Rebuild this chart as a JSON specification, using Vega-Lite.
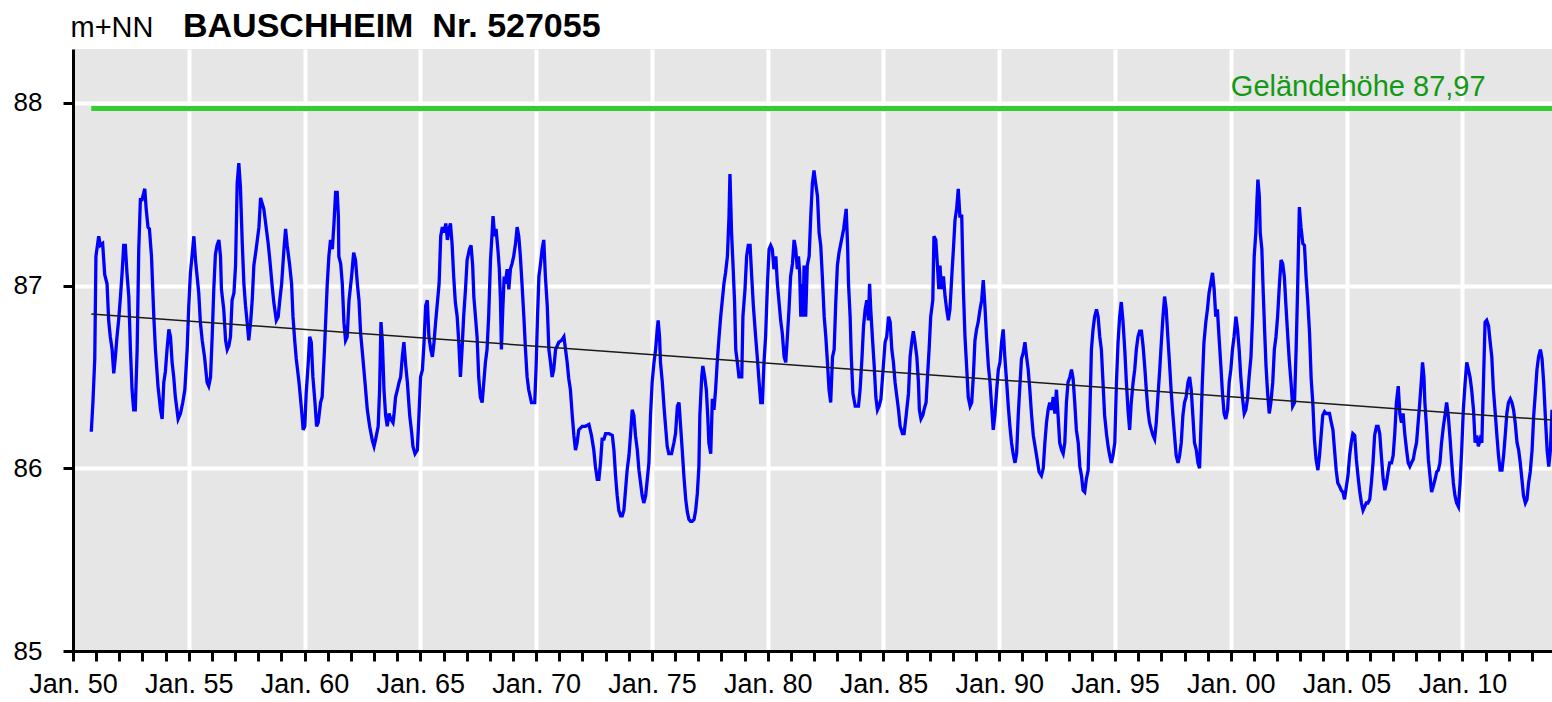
{
  "$schema": "https://vega.github.io/schema/vega-lite/v6.json",
  "width": 1479,
  "height": 602,
  "autosize": {"type": "none"},
  "padding": {"left": 73, "top": 49, "right": 0, "bottom": 51},
  "background": "white",
  "config": {
    "view": {"fill": "#e6e6e6", "stroke": null},
    "font": "Liberation Sans"
  },
  "title": {
    "text": "BAUSCHHEIM\u00a0\u00a0Nr. 527055",
    "font": "Liberation Sans",
    "fontSize": 34,
    "fontWeight": "bold",
    "color": "black",
    "anchor": "start",
    "frame": "group",
    "baseline": "alphabetic",
    "offset": 0,
    "dx": 110,
    "dy": 58
  },
  "datasets": {
    "gw": [
{"t":1950.79,"v":86.2},{"t":1950.86,"v":86.36},{"t":1950.94,"v":86.6},{"t":1950.99,"v":87.16},{"t":1951.11,"v":87.27},{"t":1951.18,"v":87.22},{"t":1951.28,"v":87.23},{"t":1951.37,"v":87.06},{"t":1951.47,"v":87.01},{"t":1951.54,"v":86.81},{"t":1951.61,"v":86.72},{"t":1951.69,"v":86.65},{"t":1951.76,"v":86.52},{"t":1951.83,"v":86.61},{"t":1951.9,"v":86.72},{"t":1951.97,"v":86.81},{"t":1952.05,"v":86.94},{"t":1952.12,"v":87.07},{"t":1952.19,"v":87.22},{"t":1952.26,"v":87.22},{"t":1952.33,"v":87.07},{"t":1952.41,"v":86.94},{"t":1952.48,"v":86.65},{"t":1952.55,"v":86.43},{"t":1952.62,"v":86.32},{"t":1952.69,"v":86.32},{"t":1952.77,"v":86.65},{"t":1952.84,"v":87.2},{"t":1952.91,"v":87.47},{"t":1952.98,"v":87.47},{"t":1953.1,"v":87.53},{"t":1953.16,"v":87.42},{"t":1953.24,"v":87.32},{"t":1953.3,"v":87.31},{"t":1953.39,"v":87.16},{"t":1953.49,"v":86.83},{"t":1953.56,"v":86.65},{"t":1953.67,"v":86.45},{"t":1953.78,"v":86.32},{"t":1953.85,"v":86.27},{"t":1953.92,"v":86.47},{"t":1953.99,"v":86.53},{"t":1954.06,"v":86.65},{"t":1954.14,"v":86.76},{"t":1954.21,"v":86.72},{"t":1954.28,"v":86.58},{"t":1954.35,"v":86.5},{"t":1954.42,"v":86.39},{"t":1954.54,"v":86.27},{"t":1954.64,"v":86.3},{"t":1954.74,"v":86.36},{"t":1954.83,"v":86.43},{"t":1954.93,"v":86.65},{"t":1955.0,"v":86.89},{"t":1955.07,"v":87.07},{"t":1955.14,"v":87.16},{"t":1955.22,"v":87.27},{"t":1955.29,"v":87.14},{"t":1955.36,"v":87.05},{"t":1955.43,"v":86.96},{"t":1955.5,"v":86.8},{"t":1955.58,"v":86.7},{"t":1955.68,"v":86.61},{"t":1955.79,"v":86.47},{"t":1955.86,"v":86.45},{"t":1955.94,"v":86.5},{"t":1956.01,"v":86.72},{"t":1956.08,"v":86.98},{"t":1956.15,"v":87.17},{"t":1956.22,"v":87.22},{"t":1956.3,"v":87.25},{"t":1956.37,"v":87.16},{"t":1956.41,"v":86.98},{"t":1956.51,"v":86.87},{"t":1956.59,"v":86.7},{"t":1956.66,"v":86.65},{"t":1956.73,"v":86.67},{"t":1956.8,"v":86.72},{"t":1956.87,"v":86.92},{"t":1956.95,"v":86.96},{"t":1957.02,"v":87.11},{"t":1957.09,"v":87.56},{"t":1957.16,"v":87.67},{"t":1957.23,"v":87.54},{"t":1957.31,"v":87.23},{"t":1957.38,"v":87.01},{"t":1957.45,"v":86.89},{"t":1957.52,"v":86.8},{"t":1957.59,"v":86.7},{"t":1957.67,"v":86.8},{"t":1957.74,"v":86.92},{"t":1957.81,"v":87.11},{"t":1957.91,"v":87.2},{"t":1958.03,"v":87.32},{"t":1958.1,"v":87.48},{"t":1958.17,"v":87.45},{"t":1958.24,"v":87.42},{"t":1958.34,"v":87.32},{"t":1958.43,"v":87.23},{"t":1958.5,"v":87.14},{"t":1958.6,"v":87.0},{"t":1958.67,"v":86.91},{"t":1958.78,"v":86.81},{"t":1958.86,"v":86.83},{"t":1958.93,"v":86.92},{"t":1959.01,"v":87.01},{"t":1959.11,"v":87.2},{"t":1959.18,"v":87.31},{"t":1959.25,"v":87.22},{"t":1959.35,"v":87.12},{"t":1959.44,"v":87.01},{"t":1959.5,"v":86.83},{"t":1959.58,"v":86.69},{"t":1959.64,"v":86.6},{"t":1959.76,"v":86.47},{"t":1959.87,"v":86.32},{"t":1959.94,"v":86.21},{"t":1960.01,"v":86.23},{"t":1960.07,"v":86.41},{"t":1960.16,"v":86.58},{"t":1960.22,"v":86.72},{"t":1960.29,"v":86.69},{"t":1960.36,"v":86.5},{"t":1960.45,"v":86.36},{"t":1960.52,"v":86.23},{"t":1960.59,"v":86.25},{"t":1960.69,"v":86.36},{"t":1960.76,"v":86.39},{"t":1960.86,"v":86.65},{"t":1960.98,"v":87.01},{"t":1961.05,"v":87.16},{"t":1961.12,"v":87.25},{"t":1961.2,"v":87.2},{"t":1961.27,"v":87.34},{"t":1961.34,"v":87.51},{"t":1961.41,"v":87.51},{"t":1961.46,"v":87.38},{"t":1961.48,"v":87.16},{"t":1961.56,"v":87.12},{"t":1961.63,"v":87.01},{"t":1961.7,"v":86.8},{"t":1961.77,"v":86.7},{"t":1961.84,"v":86.72},{"t":1961.92,"v":86.92},{"t":1962.03,"v":87.05},{"t":1962.12,"v":87.18},{"t":1962.2,"v":87.14},{"t":1962.28,"v":87.01},{"t":1962.35,"v":86.92},{"t":1962.42,"v":86.74},{"t":1962.52,"v":86.6},{"t":1962.61,"v":86.47},{"t":1962.71,"v":86.32},{"t":1962.81,"v":86.23},{"t":1962.93,"v":86.15},{"t":1963.0,"v":86.12},{"t":1963.07,"v":86.16},{"t":1963.18,"v":86.23},{"t":1963.24,"v":86.43},{"t":1963.3,"v":86.8},{"t":1963.36,"v":86.69},{"t":1963.43,"v":86.43},{"t":1963.5,"v":86.29},{"t":1963.57,"v":86.23},{"t":1963.65,"v":86.3},{"t":1963.72,"v":86.27},{"t":1963.82,"v":86.25},{"t":1963.86,"v":86.29},{"t":1963.93,"v":86.39},{"t":1964.01,"v":86.43},{"t":1964.08,"v":86.47},{"t":1964.15,"v":86.5},{"t":1964.22,"v":86.61},{"t":1964.29,"v":86.69},{"t":1964.37,"v":86.56},{"t":1964.44,"v":86.47},{"t":1964.54,"v":86.29},{"t":1964.63,"v":86.19},{"t":1964.68,"v":86.12},{"t":1964.77,"v":86.08},{"t":1964.87,"v":86.1},{"t":1964.94,"v":86.29},{"t":1965.01,"v":86.5},{"t":1965.09,"v":86.54},{"t":1965.16,"v":86.69},{"t":1965.23,"v":86.89},{"t":1965.3,"v":86.92},{"t":1965.37,"v":86.72},{"t":1965.45,"v":86.65},{"t":1965.52,"v":86.61},{"t":1965.59,"v":86.69},{"t":1965.66,"v":86.8},{"t":1965.81,"v":87.01},{"t":1965.88,"v":87.27},{"t":1965.95,"v":87.32},{"t":1966.02,"v":87.29},{"t":1966.1,"v":87.34},{"t":1966.17,"v":87.25},{"t":1966.24,"v":87.31},
{"t":1966.3,"v":87.34},{"t":1966.37,"v":87.23},{"t":1966.44,"v":87.05},{"t":1966.51,"v":86.91},{"t":1966.59,"v":86.83},{"t":1966.66,"v":86.69},{"t":1966.73,"v":86.5},{"t":1966.8,"v":86.65},{"t":1966.87,"v":86.83},{"t":1966.95,"v":86.98},{"t":1967.02,"v":87.14},{"t":1967.12,"v":87.2},{"t":1967.19,"v":87.22},{"t":1967.26,"v":87.11},{"t":1967.31,"v":86.94},{"t":1967.38,"v":86.83},{"t":1967.45,"v":86.72},{"t":1967.52,"v":86.5},{"t":1967.59,"v":86.39},{"t":1967.67,"v":86.36},{"t":1967.74,"v":86.47},{"t":1967.81,"v":86.58},{"t":1967.88,"v":86.65},{"t":1967.95,"v":86.83},{"t":1968.03,"v":87.14},{"t":1968.1,"v":87.29},{"t":1968.14,"v":87.38},{"t":1968.21,"v":87.27},{"t":1968.27,"v":87.31},{"t":1968.36,"v":87.18},{"t":1968.41,"v":87.09},{"t":1968.46,"v":86.92},{"t":1968.5,"v":86.65},{"t":1968.56,"v":86.87},{"t":1968.62,"v":87.05},{"t":1968.67,"v":87.01},{"t":1968.75,"v":87.09},{"t":1968.82,"v":86.98},{"t":1968.89,"v":87.09},{"t":1968.96,"v":87.12},{"t":1969.03,"v":87.16},{"t":1969.11,"v":87.23},{"t":1969.18,"v":87.32},{"t":1969.25,"v":87.27},{"t":1969.32,"v":87.16},{"t":1969.39,"v":87.01},{"t":1969.47,"v":86.83},{"t":1969.54,"v":86.65},{"t":1969.61,"v":86.5},{"t":1969.68,"v":86.43},{"t":1969.8,"v":86.36},{"t":1969.94,"v":86.36},{"t":1970.0,"v":86.56},{"t":1970.06,"v":86.83},{"t":1970.12,"v":87.05},{"t":1970.19,"v":87.12},{"t":1970.26,"v":87.2},{"t":1970.33,"v":87.25},{"t":1970.4,"v":87.05},{"t":1970.48,"v":86.89},{"t":1970.55,"v":86.65},{"t":1970.62,"v":86.58},{"t":1970.69,"v":86.5},{"t":1970.76,"v":86.54},{"t":1970.84,"v":86.65},{"t":1970.98,"v":86.69},{"t":1971.1,"v":86.7},{"t":1971.2,"v":86.72},{"t":1971.27,"v":86.65},{"t":1971.34,"v":86.58},{"t":1971.41,"v":86.49},{"t":1971.48,"v":86.43},{"t":1971.56,"v":86.29},{"t":1971.63,"v":86.18},{"t":1971.7,"v":86.1},{"t":1971.77,"v":86.14},{"t":1971.84,"v":86.21},{"t":1971.99,"v":86.23},{"t":1972.13,"v":86.23},{"t":1972.28,"v":86.24},{"t":1972.39,"v":86.18},{"t":1972.49,"v":86.1},{"t":1972.56,"v":86.01},{"t":1972.64,"v":85.94},{"t":1972.71,"v":85.94},{"t":1972.78,"v":86.03},{"t":1972.85,"v":86.16},{"t":1972.93,"v":86.16},{"t":1973.0,"v":86.19},{"t":1973.14,"v":86.19},{"t":1973.29,"v":86.18},{"t":1973.36,"v":86.1},{"t":1973.43,"v":85.96},{"t":1973.5,"v":85.85},{"t":1973.57,"v":85.77},{"t":1973.65,"v":85.74},{"t":1973.72,"v":85.74},{"t":1973.79,"v":85.77},{"t":1973.86,"v":85.88},{"t":1973.93,"v":85.99},{"t":1974.01,"v":86.07},{"t":1974.08,"v":86.19},{"t":1974.15,"v":86.32},{"t":1974.22,"v":86.29},{"t":1974.29,"v":86.18},{"t":1974.37,"v":86.1},{"t":1974.44,"v":85.99},{"t":1974.51,"v":85.92},{"t":1974.58,"v":85.85},{"t":1974.65,"v":85.81},{"t":1974.73,"v":85.85},{"t":1974.8,"v":85.94},{"t":1974.87,"v":86.03},{"t":1974.94,"v":86.29},{"t":1975.01,"v":86.47},{"t":1975.09,"v":86.58},{"t":1975.16,"v":86.65},{"t":1975.23,"v":86.76},{"t":1975.27,"v":86.81},{"t":1975.33,"v":86.72},{"t":1975.37,"v":86.58},{"t":1975.45,"v":86.47},{"t":1975.52,"v":86.34},{"t":1975.59,"v":86.23},{"t":1975.66,"v":86.12},{"t":1975.73,"v":86.08},{"t":1975.85,"v":86.08},{"t":1975.95,"v":86.14},{"t":1976.02,"v":86.19},{"t":1976.1,"v":86.34},{"t":1976.17,"v":86.36},{"t":1976.24,"v":86.23},{"t":1976.31,"v":86.1},{"t":1976.38,"v":85.96},{"t":1976.46,"v":85.83},{"t":1976.53,"v":85.76},{"t":1976.6,"v":85.72},{"t":1976.67,"v":85.71},{"t":1976.74,"v":85.71},{"t":1976.82,"v":85.72},{"t":1976.89,"v":85.77},{"t":1976.96,"v":85.86},{"t":1977.03,"v":86.01},{"t":1977.07,"v":86.29},{"t":1977.15,"v":86.5},{"t":1977.2,"v":86.56},{"t":1977.28,"v":86.5},{"t":1977.35,"v":86.43},{"t":1977.41,"v":86.29},{"t":1977.46,"v":86.14},{"t":1977.54,"v":86.08},{"t":1977.61,"v":86.38},{"t":1977.68,"v":86.32},{"t":1977.75,"v":86.43},{"t":1977.82,"v":86.58},{"t":1977.9,"v":86.72},{"t":1977.97,"v":86.83},{"t":1978.04,"v":86.92},{"t":1978.11,"v":87.01},{"t":1978.18,"v":87.07},{"t":1978.26,"v":87.16},{"t":1978.33,"v":87.38},{"t":1978.37,"v":87.61},{"t":1978.44,"v":87.29},{"t":1978.5,"v":87.12},{"t":1978.57,"v":86.91},{"t":1978.62,"v":86.65},{"t":1978.69,"v":86.58},{"t":1978.76,"v":86.5},{"t":1978.88,"v":86.5},{"t":1978.93,"v":86.83},{"t":1979.02,"v":86.98},{"t":1979.09,"v":87.16},{"t":1979.16,"v":87.22},{"t":1979.24,"v":87.22},{"t":1979.31,"v":87.05},{"t":1979.38,"v":86.89},{"t":1979.48,"v":86.72},{"t":1979.55,"v":86.61},{"t":1979.63,"v":86.47},{"t":1979.7,"v":86.36},{"t":1979.77,"v":86.36},{"t":1979.84,"v":86.58},{"t":1979.91,"v":86.72},{"t":1979.99,"v":87.01},{"t":1980.06,"v":87.2},{"t":1980.13,"v":87.22},{"t":1980.2,"v":87.2},{"t":1980.27,"v":87.09},{"t":1980.35,"v":87.16},{"t":1980.42,"v":87.01},{"t":1980.49,"v":86.91},{"t":1980.56,"v":86.81},{"t":1980.63,"v":86.74},{"t":1980.71,"v":86.61},{"t":1980.78,"v":86.58},{"t":1980.85,"v":86.72},{"t":1980.92,"v":86.87},{"t":1980.99,"v":87.05},{"t":1981.07,"v":87.12},{"t":1981.14,"v":87.25},{"t":1981.21,"v":87.2},{"t":1981.28,"v":87.09},{"t":1981.33,"v":87.16},{"t":1981.38,"v":87.07},{"t":1981.43,"v":86.83},{"t":1981.47,"v":87.01},{"t":1981.53,"v":86.83},{"t":1981.57,"v":87.11},{"t":1981.64,"v":86.83},{"t":1981.71,"v":87.11},{"t":1981.79,"v":87.16},{"t":1981.86,"v":87.38},{"t":1981.93,"v":87.56},{"t":1982.0,"v":87.63},{"t":1982.07,"v":87.56},{"t":1982.15,"v":87.49},{"t":1982.22,"v":87.29},{"t":1982.29,"v":87.22},{"t":1982.36,"v":87.05},{"t":1982.44,"v":86.83},{"t":1982.51,"v":86.72},{"t":1982.58,"v":86.58},{"t":1982.65,"v":86.43},{"t":1982.72,"v":86.36},{"t":1982.8,"v":86.61},{"t":1982.87,"v":86.65},{"t":1982.94,"v":86.91},{"t":1983.01,"v":87.11},{"t":1983.08,"v":87.18},
{"t":1983.28,"v":87.31},{"t":1983.39,"v":87.42},{"t":1983.45,"v":87.22},{"t":1983.49,"v":87.01},{"t":1983.56,"v":86.83},{"t":1983.61,"v":86.61},{"t":1983.68,"v":86.41},{"t":1983.78,"v":86.34},{"t":1983.92,"v":86.34},{"t":1983.99,"v":86.43},{"t":1984.07,"v":86.6},{"t":1984.14,"v":86.78},{"t":1984.21,"v":86.87},{"t":1984.28,"v":86.92},{"t":1984.35,"v":86.81},{"t":1984.4,"v":87.01},{"t":1984.45,"v":86.87},{"t":1984.53,"v":86.7},{"t":1984.6,"v":86.56},{"t":1984.67,"v":86.39},{"t":1984.74,"v":86.32},{"t":1984.81,"v":86.34},{"t":1984.89,"v":86.38},{"t":1984.96,"v":86.5},{"t":1985.07,"v":86.69},{"t":1985.14,"v":86.72},{"t":1985.22,"v":86.83},{"t":1985.29,"v":86.8},{"t":1985.36,"v":86.65},{"t":1985.43,"v":86.58},{"t":1985.5,"v":86.47},{"t":1985.65,"v":86.32},{"t":1985.72,"v":86.23},{"t":1985.82,"v":86.19},{"t":1985.89,"v":86.19},{"t":1985.98,"v":86.29},{"t":1986.08,"v":86.41},{"t":1986.15,"v":86.61},{"t":1986.22,"v":86.69},{"t":1986.29,"v":86.75},{"t":1986.36,"v":86.69},{"t":1986.44,"v":86.61},{"t":1986.51,"v":86.47},{"t":1986.55,"v":86.32},{"t":1986.62,"v":86.27},{"t":1986.7,"v":86.29},{"t":1986.75,"v":86.32},{"t":1986.84,"v":86.36},{"t":1986.9,"v":86.5},{"t":1986.97,"v":86.65},{"t":1987.04,"v":86.83},{"t":1987.13,"v":86.92},{"t":1987.18,"v":87.27},{"t":1987.26,"v":87.25},{"t":1987.33,"v":87.11},{"t":1987.39,"v":86.98},{"t":1987.44,"v":87.11},{"t":1987.51,"v":86.98},{"t":1987.59,"v":87.05},{"t":1987.66,"v":86.94},{"t":1987.73,"v":86.87},{"t":1987.8,"v":86.81},{"t":1987.87,"v":86.87},{"t":1987.95,"v":87.05},{"t":1988.02,"v":87.2},{"t":1988.09,"v":87.36},{"t":1988.16,"v":87.42},{"t":1988.23,"v":87.53},{"t":1988.3,"v":87.38},{"t":1988.38,"v":87.38},{"t":1988.45,"v":86.98},{"t":1988.52,"v":86.72},{"t":1988.59,"v":86.56},{"t":1988.66,"v":86.39},{"t":1988.74,"v":86.34},{"t":1988.81,"v":86.36},{"t":1988.88,"v":86.5},{"t":1988.95,"v":86.7},{"t":1989.02,"v":86.76},{"t":1989.09,"v":86.8},{"t":1989.17,"v":86.87},{"t":1989.24,"v":86.92},{"t":1989.31,"v":87.03},{"t":1989.38,"v":86.89},{"t":1989.45,"v":86.72},{"t":1989.53,"v":86.56},{"t":1989.6,"v":86.47},{"t":1989.67,"v":86.34},{"t":1989.74,"v":86.21},{"t":1989.81,"v":86.29},{"t":1989.89,"v":86.43},{"t":1989.96,"v":86.54},{"t":1990.03,"v":86.58},{"t":1990.1,"v":86.69},{"t":1990.17,"v":86.76},{"t":1990.24,"v":86.61},{"t":1990.32,"v":86.47},{"t":1990.39,"v":86.34},{"t":1990.46,"v":86.23},{"t":1990.53,"v":86.14},{"t":1990.6,"v":86.08},{"t":1990.68,"v":86.03},{"t":1990.75,"v":86.08},{"t":1990.82,"v":86.29},{"t":1990.89,"v":86.45},{"t":1990.96,"v":86.6},{"t":1991.03,"v":86.63},{"t":1991.11,"v":86.69},{"t":1991.18,"v":86.61},{"t":1991.25,"v":86.54},{"t":1991.32,"v":86.43},{"t":1991.39,"v":86.3},{"t":1991.47,"v":86.18},{"t":1991.61,"v":86.07},{"t":1991.72,"v":85.98},{"t":1991.82,"v":85.96},{"t":1991.9,"v":86.0},{"t":1991.97,"v":86.14},{"t":1992.04,"v":86.25},{"t":1992.11,"v":86.32},{"t":1992.18,"v":86.36},{"t":1992.26,"v":86.32},{"t":1992.33,"v":86.39},{"t":1992.4,"v":86.3},{"t":1992.47,"v":86.43},{"t":1992.54,"v":86.29},{"t":1992.61,"v":86.14},{"t":1992.69,"v":86.1},{"t":1992.76,"v":86.08},{"t":1992.83,"v":86.14},{"t":1992.9,"v":86.36},{"t":1992.97,"v":86.47},{"t":1993.05,"v":86.5},{"t":1993.12,"v":86.54},{"t":1993.19,"v":86.49},{"t":1993.26,"v":86.36},{"t":1993.33,"v":86.21},{"t":1993.41,"v":86.14},{"t":1993.48,"v":86.01},{"t":1993.55,"v":85.96},{"t":1993.62,"v":85.88},{"t":1993.69,"v":85.87},{"t":1993.76,"v":85.94},{"t":1993.84,"v":85.99},{"t":1993.91,"v":86.29},{"t":1993.98,"v":86.65},{"t":1994.05,"v":86.76},{"t":1994.12,"v":86.83},{"t":1994.2,"v":86.87},{"t":1994.27,"v":86.83},{"t":1994.34,"v":86.72},{"t":1994.41,"v":86.65},{"t":1994.48,"v":86.47},{"t":1994.55,"v":86.29},{"t":1994.63,"v":86.19},{"t":1994.7,"v":86.12},{"t":1994.77,"v":86.07},{"t":1994.84,"v":86.03},{"t":1994.91,"v":86.07},{"t":1994.99,"v":86.14},{"t":1995.06,"v":86.47},{"t":1995.13,"v":86.69},{"t":1995.2,"v":86.83},{"t":1995.27,"v":86.91},{"t":1995.34,"v":86.81},{"t":1995.42,"v":86.65},{"t":1995.49,"v":86.47},{"t":1995.56,"v":86.32},{"t":1995.63,"v":86.21},{"t":1995.7,"v":86.36},{"t":1995.78,"v":86.47},{"t":1995.85,"v":86.54},{"t":1995.92,"v":86.65},{"t":1995.99,"v":86.72},{"t":1996.06,"v":86.75},{"t":1996.14,"v":86.75},{"t":1996.21,"v":86.67},{"t":1996.28,"v":86.56},{"t":1996.35,"v":86.43},{"t":1996.42,"v":86.32},{"t":1996.49,"v":86.25},{"t":1996.57,"v":86.21},{"t":1996.64,"v":86.18},{"t":1996.71,"v":86.16},{"t":1996.78,"v":86.25},{"t":1996.85,"v":86.39},{"t":1996.93,"v":86.54},{"t":1997.0,"v":86.69},{"t":1997.07,"v":86.83},{"t":1997.14,"v":86.94},{"t":1997.21,"v":86.87},{"t":1997.28,"v":86.72},{"t":1997.36,"v":86.56},{"t":1997.43,"v":86.41},{"t":1997.5,"v":86.29},{"t":1997.57,"v":86.18},{"t":1997.64,"v":86.07},{"t":1997.72,"v":86.03},{"t":1997.79,"v":86.07},{"t":1997.86,"v":86.14},{"t":1997.93,"v":86.29},{"t":1998.0,"v":86.36},{"t":1998.07,"v":86.39},{"t":1998.15,"v":86.47},{"t":1998.22,"v":86.5},{"t":1998.29,"v":86.43},{"t":1998.36,"v":86.29},{"t":1998.43,"v":86.14},{"t":1998.51,"v":86.1},{"t":1998.58,"v":86.03},{"t":1998.65,"v":86.0},
{"t":1998.77,"v":86.47},{"t":1998.84,"v":86.69},{"t":1998.92,"v":86.8},{"t":1998.99,"v":86.87},{"t":1999.06,"v":86.96},{"t":1999.13,"v":87.01},{"t":1999.21,"v":87.07},{"t":1999.28,"v":86.98},{"t":1999.35,"v":86.83},{"t":1999.42,"v":86.87},{"t":1999.49,"v":86.72},{"t":1999.57,"v":86.56},{"t":1999.64,"v":86.41},{"t":1999.71,"v":86.3},{"t":1999.78,"v":86.27},{"t":1999.86,"v":86.32},{"t":1999.93,"v":86.47},{"t":2000.0,"v":86.54},{"t":2000.07,"v":86.65},{"t":2000.14,"v":86.72},{"t":2000.22,"v":86.83},{"t":2000.29,"v":86.76},{"t":2000.36,"v":86.65},{"t":2000.43,"v":86.5},{"t":2000.51,"v":86.38},{"t":2000.58,"v":86.3},{"t":2000.65,"v":86.32},{"t":2000.72,"v":86.38},{"t":2000.79,"v":86.5},{"t":2000.87,"v":86.61},{"t":2000.94,"v":86.83},{"t":2001.01,"v":87.16},{"t":2001.08,"v":87.29},{"t":2001.13,"v":87.47},{"t":2001.17,"v":87.58},{"t":2001.23,"v":87.49},{"t":2001.27,"v":87.29},{"t":2001.34,"v":87.2},{"t":2001.4,"v":86.96},{"t":2001.47,"v":86.72},{"t":2001.52,"v":86.56},{"t":2001.59,"v":86.41},{"t":2001.66,"v":86.3},{"t":2001.73,"v":86.36},{"t":2001.81,"v":86.47},{"t":2001.88,"v":86.65},{"t":2001.95,"v":86.72},{"t":2002.02,"v":86.83},{"t":2002.1,"v":87.01},{"t":2002.17,"v":87.14},{"t":2002.24,"v":87.12},{"t":2002.31,"v":87.05},{"t":2002.38,"v":86.89},{"t":2002.46,"v":86.72},{"t":2002.53,"v":86.58},{"t":2002.6,"v":86.47},{"t":2002.67,"v":86.34},{"t":2002.75,"v":86.36},{"t":2002.82,"v":86.65},{"t":2002.89,"v":87.01},{"t":2002.96,"v":87.43},{"t":2003.03,"v":87.32},{"t":2003.11,"v":87.23},{"t":2003.18,"v":87.22},{"t":2003.25,"v":87.05},{"t":2003.32,"v":86.92},{"t":2003.4,"v":86.74},{"t":2003.47,"v":86.49},{"t":2003.54,"v":86.36},{"t":2003.61,"v":86.16},{"t":2003.68,"v":86.05},{"t":2003.76,"v":85.99},{"t":2003.83,"v":86.07},{"t":2003.9,"v":86.18},{"t":2003.97,"v":86.29},{"t":2004.05,"v":86.31},{"t":2004.12,"v":86.3},{"t":2004.19,"v":86.3},{"t":2004.26,"v":86.3},{"t":2004.34,"v":86.25},{"t":2004.41,"v":86.21},{"t":2004.48,"v":86.1},{"t":2004.55,"v":85.99},{"t":2004.62,"v":85.92},{"t":2004.7,"v":85.9},{"t":2004.77,"v":85.88},{"t":2004.84,"v":85.87},{"t":2004.91,"v":85.83},{"t":2004.99,"v":85.9},{"t":2005.06,"v":85.96},{"t":2005.13,"v":86.07},{"t":2005.2,"v":86.14},{"t":2005.27,"v":86.19},{"t":2005.35,"v":86.18},{"t":2005.42,"v":86.05},{"t":2005.49,"v":85.96},{"t":2005.56,"v":85.88},{"t":2005.64,"v":85.81},{"t":2005.71,"v":85.77},{"t":2005.78,"v":85.79},{"t":2005.85,"v":85.81},{"t":2005.92,"v":85.81},{"t":2006.0,"v":85.83},{"t":2006.07,"v":85.92},{"t":2006.14,"v":86.03},{"t":2006.21,"v":86.18},{"t":2006.29,"v":86.23},{"t":2006.36,"v":86.23},{"t":2006.43,"v":86.19},{"t":2006.5,"v":86.07},{"t":2006.58,"v":85.94},{"t":2006.65,"v":85.88},{"t":2006.72,"v":85.92},{"t":2006.79,"v":85.98},{"t":2006.86,"v":86.03},{"t":2006.94,"v":86.03},{"t":2007.01,"v":86.07},{"t":2007.08,"v":86.19},{"t":2007.15,"v":86.36},{"t":2007.23,"v":86.45},{"t":2007.3,"v":86.3},{"t":2007.37,"v":86.25},{"t":2007.44,"v":86.3},{"t":2007.51,"v":86.19},{"t":2007.59,"v":86.1},{"t":2007.66,"v":86.03},{"t":2007.73,"v":86.01},{"t":2007.8,"v":86.03},{"t":2007.88,"v":86.05},{"t":2007.95,"v":86.1},{"t":2008.02,"v":86.14},{"t":2008.09,"v":86.25},{"t":2008.16,"v":86.36},{"t":2008.24,"v":86.5},{"t":2008.28,"v":86.58},{"t":2008.34,"v":86.5},{"t":2008.38,"v":86.36},{"t":2008.45,"v":86.23},{"t":2008.53,"v":86.05},{"t":2008.6,"v":85.96},{"t":2008.67,"v":85.87},{"t":2008.74,"v":85.9},{"t":2008.82,"v":85.94},{"t":2008.89,"v":85.98},{"t":2008.96,"v":85.99},{"t":2009.03,"v":86.03},{"t":2009.1,"v":86.14},{"t":2009.18,"v":86.23},{"t":2009.25,"v":86.29},{"t":2009.32,"v":86.36},{"t":2009.39,"v":86.29},{"t":2009.47,"v":86.16},{"t":2009.54,"v":86.03},{"t":2009.61,"v":85.92},{"t":2009.68,"v":85.85},{"t":2009.75,"v":85.81},{"t":2009.83,"v":85.79},{"t":2009.9,"v":85.92},{"t":2009.97,"v":86.1},{"t":2010.04,"v":86.32},{"t":2010.12,"v":86.47},{"t":2010.19,"v":86.58},{"t":2010.26,"v":86.54},{"t":2010.33,"v":86.5},{"t":2010.4,"v":86.43},{"t":2010.48,"v":86.32},{"t":2010.55,"v":86.14},{"t":2010.62,"v":86.18},{"t":2010.69,"v":86.12},{"t":2010.77,"v":86.16},{"t":2010.84,"v":86.14},{"t":2010.91,"v":86.47},{"t":2010.98,"v":86.8},{"t":2011.05,"v":86.81},{"t":2011.13,"v":86.78},{"t":2011.2,"v":86.69},{"t":2011.27,"v":86.61},{"t":2011.34,"v":86.43},{"t":2011.42,"v":86.3},{"t":2011.49,"v":86.18},{"t":2011.56,"v":86.07},{"t":2011.63,"v":85.99},{"t":2011.71,"v":85.99},{"t":2011.78,"v":86.07},{"t":2011.85,"v":86.18},{"t":2011.92,"v":86.3},{"t":2011.99,"v":86.36},{"t":2012.07,"v":86.38},{"t":2012.14,"v":86.36},{"t":2012.21,"v":86.32},{"t":2012.28,"v":86.25},{"t":2012.36,"v":86.14},{"t":2012.43,"v":86.1},{"t":2012.5,"v":86.03},{"t":2012.57,"v":85.94},{"t":2012.64,"v":85.85},{"t":2012.72,"v":85.81},{"t":2012.79,"v":85.83},{"t":2012.86,"v":85.92},{"t":2012.93,"v":85.98},{"t":2013.01,"v":86.1},{"t":2013.08,"v":86.29},{"t":2013.15,"v":86.41},{"t":2013.22,"v":86.54},{"t":2013.29,"v":86.61},{"t":2013.37,"v":86.65},{"t":2013.44,"v":86.6},{"t":2013.51,"v":86.47},{"t":2013.58,"v":86.29},{"t":2013.66,"v":86.1},{"t":2013.73,"v":86.01},{"t":2013.8,"v":86.1},{"t":2013.87,"v":86.32}
    ],
    "trend": [{"t": 1950.79, "v": 86.845}, {"t": 2013.87, "v": 86.264}],
    "ground": [{"t": 1950.79, "t2": 2013.87, "v": 87.97}],
    "label": [{"t": 2000, "v": 88.04, "label": "Geländehöhe 87,97"}]
  },
  "encoding": {
    "x": {
      "field": "t",
      "type": "quantitative",
      "scale": {"domain": [1950, 2013.87], "nice": false, "zero": false},
      "axis": {
        "title": null,
        "values": [1950,1951,1952,1953,1954,1955,1956,1957,1958,1959,1960,1961,1962,1963,1964,1965,1966,1967,1968,1969,1970,1971,1972,1973,1974,1975,1976,1977,1978,1979,1980,1981,1982,1983,1984,1985,1986,1987,1988,1989,1990,1991,1992,1993,1994,1995,1996,1997,1998,1999,2000,2001,2002,2003,2004,2005,2006,2007,2008,2009,2010,2011,2012,2013],
        "labelExpr": "datum.value % 5 == 0 ? 'Jan. ' + (datum.value % 100 < 10 ? '0' : '') + (datum.value % 100) : ''",
        "labelFont": "Liberation Sans",
        "labelFontSize": 27,
        "labelColor": "black",
        "labelPadding": 10,
        "labelOverlap": false,
        "labelFlush": false,
        "labelBound": false,
        "tickSize": 10,
        "tickWidth": 3,
        "tickColor": "black",
        "domainColor": "black",
        "domainWidth": 3,
        "grid": true,
        "gridColor": "white",
        "gridWidth": 4,
        "gridOpacity": {"condition": {"test": "datum.value % 5 == 0 && datum.value != 1950", "value": 1}, "value": 0}
      }
    },
    "y": {
      "field": "v",
      "type": "quantitative",
      "scale": {"domain": [85, 88.295], "nice": false, "zero": false},
      "axis": {
        "values": [85, 86, 87, 88],
        "title": "m+NN",
        "titleAngle": 0,
        "titleX": -3,
        "titleY": -13,
        "titleAlign": "left",
        "titleBaseline": "alphabetic",
        "titleFont": "Liberation Sans",
        "titleFontSize": 29,
        "titleFontWeight": "normal",
        "titleColor": "black",
        "labelFont": "Liberation Sans",
        "labelFontSize": 26,
        "labelColor": "black",
        "labelPadding": 21,
        "tickSize": 10,
        "tickWidth": 3,
        "tickColor": "black",
        "domainColor": "black",
        "domainWidth": 3,
        "grid": true,
        "gridColor": "white",
        "gridWidth": 4,
        "gridOpacity": {"condition": {"test": "datum.value == 85", "value": 0}, "value": 1}
      }
    }
  },
  "layer": [
    {
      "data": {"name": "gw"},
      "mark": {"type": "line", "color": "#0000ff", "strokeWidth": 3.3, "clip": true}
    },
    {
      "data": {"name": "trend"},
      "mark": {"type": "line", "color": "#1a1a1a", "strokeWidth": 1.5}
    },
    {
      "data": {"name": "ground"},
      "mark": {"type": "rule", "color": "#33cc33", "strokeWidth": 5},
      "encoding": {"x2": {"field": "t2"}}
    },
    {
      "data": {"name": "label"},
      "mark": {"type": "text", "align": "left", "baseline": "alphabetic", "font": "Liberation Sans", "fontSize": 29, "color": "#139913"},
      "encoding": {"text": {"field": "label"}}
    }
  ]
}
